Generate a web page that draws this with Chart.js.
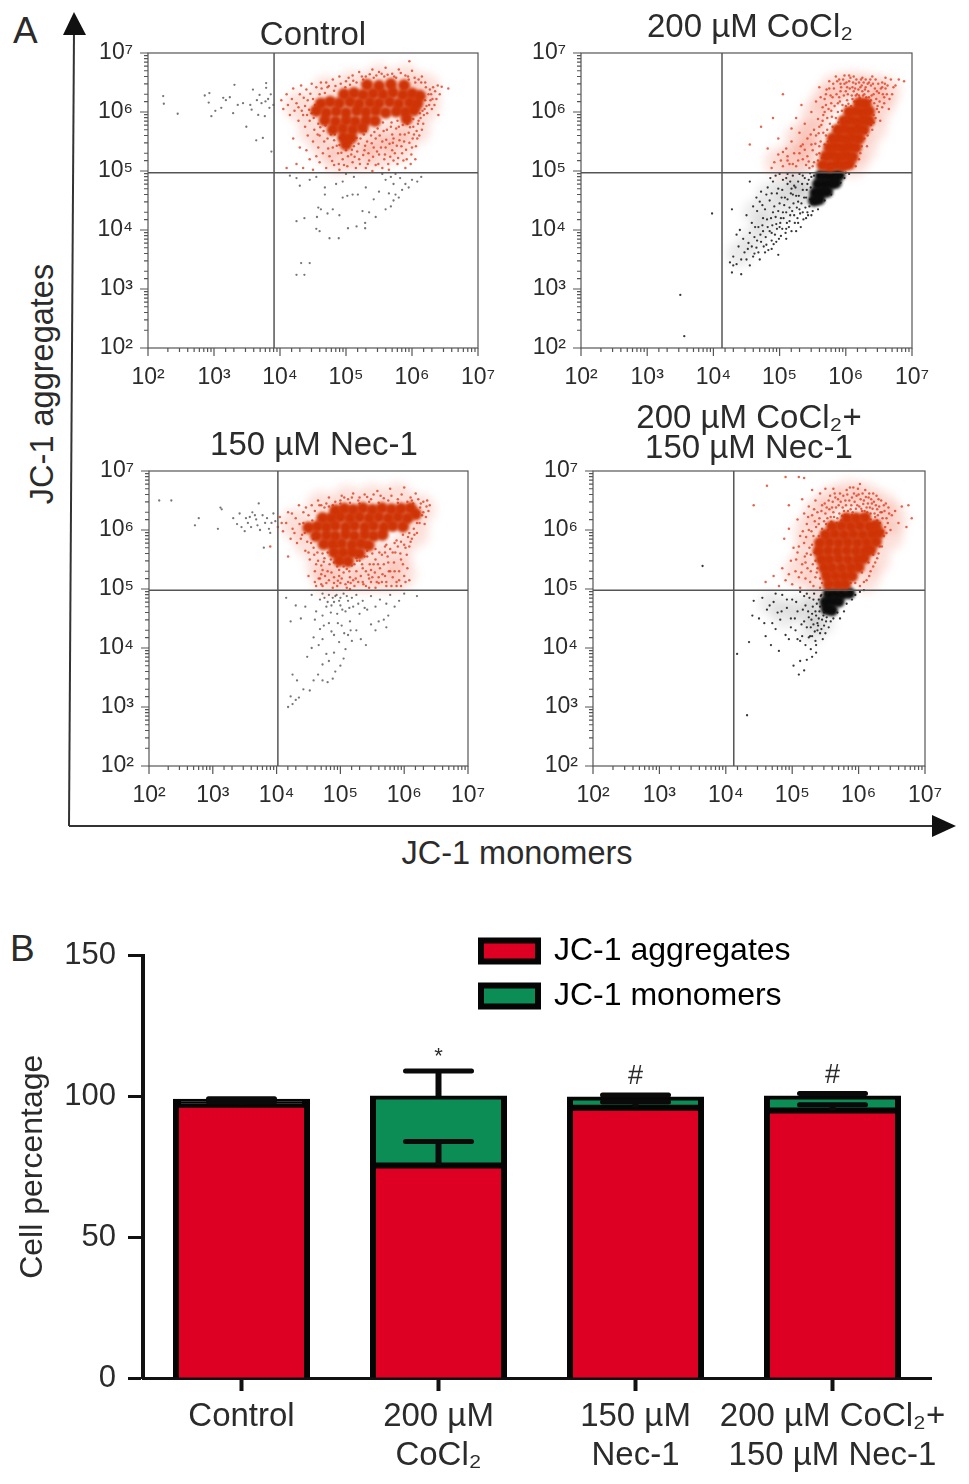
<!DOCTYPE html>
<html><head><meta charset="utf-8">
<script src="https://cdn.jsdelivr.net/npm/chart.js@4"></script>
<style>
html,body{margin:0;padding:0;background:#fff;width:969px;height:1484px;overflow:hidden}
canvas{position:absolute}
.t{position:absolute;font-family:"Liberation Sans",Arial,sans-serif;color:#2b2b2b;white-space:nowrap;line-height:1}
svg{position:absolute;left:0;top:0}
</style></head><body>
<svg width="969" height="880"><g fill="#111" stroke="#333" stroke-width="2">
<line x1="69" y1="826" x2="74" y2="30"/><line x1="69" y1="826" x2="935" y2="826"/>
<path d="M74 12 L86 35 L63 35 Z" stroke="none"/><path d="M956 826 L932 815 L932 837 Z" stroke="none"/></g></svg>
<div class="t" style="left:13px;top:12px;font-size:37px">A</div>
<div class="t" style="left:10px;top:930px;font-size:37px">B</div>
<div class="t" style="left:42px;top:384px;font-size:32.5px;transform:translate(-50%,-50%) rotate(-90deg)">JC-1 aggregates</div>
<div class="t" style="left:517px;top:853px;font-size:32.5px;transform:translate(-50%,-50%)">JC-1 monomers</div>
<script>
// ---------- Panel A: values are log10 of the fluorescence [monomers, aggregates]
const scatterTitles = [["Control"], ["200 µM CoCl₂"], ["150 µM Nec-1"], ["200 µM CoCl₂+", "150 µM Nec-1"]];
const decadeLabels = {2:"10²",3:"10³",4:"10⁴",5:"10⁵",6:"10⁶",7:"10⁷"};
const gates = [[3.91,4.97],[4.13,4.97],[4.02,4.98],[4.12,4.98]];

const controlCore = [[5.32,6.46],[5.5,6.44],[5.68,6.47],[5.88,6.45],[4.97,6.3],[5.12,6.32],[5.26,6.29],[5.41,6.31],[5.56,6.3],[5.71,6.33],[5.86,6.29],[6.0,6.31],[6.12,6.27],[4.62,6.14],[4.76,6.17],[4.9,6.15],[5.06,6.17],[5.2,6.14],[5.36,6.16],[5.5,6.15],[5.66,6.17],[5.8,6.14],[5.96,6.16],[6.08,6.14],[4.55,6.02],[4.7,5.99],[4.85,6.01],[5.0,5.99],[5.16,6.02],[5.3,6.0],[5.45,6.02],[5.6,5.99],[5.76,6.01],[5.9,6.0],[6.03,6.03],[4.68,5.86],[4.84,5.84],[5.0,5.86],[5.14,5.84],[5.3,5.86],[5.44,5.85],[5.92,5.88],[4.8,5.7],[4.95,5.72],[5.1,5.7],[5.25,5.73],[4.96,5.57],[5.08,5.56],[5.0,5.45]];
const controlRed = [[4.02,6.2],[4.05,6.05],[4.1,6.3],[4.12,6.12],[4.15,5.95],[4.18,6.22],[4.2,6.4],[4.22,6.02],[4.25,6.15],[4.28,5.85],[4.3,6.3],[4.32,6.45],[4.35,5.95],[4.38,5.75],[4.4,6.38],[4.42,5.6],[4.45,5.85],[4.48,6.48],[4.5,5.5],[4.52,5.7],[4.55,6.42],[4.58,5.4],[4.6,5.6],[4.62,6.5],[4.1,5.05],[4.25,5.12],[4.35,5.05],[4.45,5.2],[4.5,5.02],[4.6,5.15],[4.65,5.3],[4.7,5.05],[4.75,5.25],[4.8,5.4],[4.82,5.1],[4.88,5.3],[4.9,5.02],[4.95,5.2],[5.0,5.35],[5.02,5.08],[5.08,5.28],[5.12,5.42],[5.15,5.05],[5.2,5.2],[5.22,5.55],[5.28,5.35],[5.3,5.05],[5.35,5.18],[5.38,5.6],[5.42,5.4],[5.45,5.1],[5.5,5.28],[5.55,5.5],[5.58,5.2],[5.62,5.7],[5.65,5.02],[5.7,5.35],[5.72,5.55],[5.78,5.12],[5.8,5.75],[5.85,5.3],[5.88,5.5],[5.92,5.2],[5.95,5.65],[6.0,5.4],[6.02,5.75],[6.08,5.55],[6.1,5.85],[6.15,5.7],[6.18,5.95],[6.22,6.1],[6.25,6.3],[6.28,6.2],[6.3,6.05],[6.32,6.42],[6.2,6.5],[6.15,6.6],[6.35,6.35],[6.55,6.4],[6.45,6.43],[6.4,5.95],[4.7,6.5],[4.8,6.55],[4.9,6.6],[5.0,6.52],[5.1,6.62],[5.2,6.68],[5.3,6.6],[5.4,6.72],[5.5,6.68],[5.6,6.75],[5.7,6.65],[5.8,6.72],[5.9,6.62],[6.0,6.7],[6.1,6.55],[5.96,6.86],[4.72,6.42],[4.84,6.44],[4.92,6.48],[5.06,6.46],[5.16,6.5],[5.26,6.55],[5.42,6.58],[5.58,6.6],[5.76,6.58],[5.95,6.55],[6.05,6.5],[4.48,5.98],[4.5,6.22],[4.58,5.8],[4.66,5.68],[4.72,5.55],[4.82,5.52],[4.9,5.44],[5.16,5.56],[5.3,5.68],[5.48,5.72],[5.56,5.82],[5.68,5.75],[5.78,5.85],[5.7,5.62],[5.45,5.55],[5.32,5.5],[5.6,5.4],[5.82,5.62],[6.02,5.88],[6.16,6.02],[6.2,6.2],[6.12,5.98],[4.38,6.1],[4.28,6.08],[4.42,6.2],[4.68,6.32],[4.82,6.36],[4.6,6.3],[4.95,5.6],[5.1,5.15],[4.4,5.35],[4.3,5.4],[4.2,5.55],[4.55,5.25],[5.4,5.0],[5.55,5.05],[5.72,5.18],[5.9,5.05],[6.05,5.2],[5.98,5.12]];
const controlRedMore = [[4.33,6.02],[4.36,6.24],[4.41,5.95],[4.44,6.04],[4.46,6.31],[4.51,5.9],[4.53,6.12],[4.57,5.62],[4.61,5.74],[4.63,6.4],[4.67,5.5],[4.69,5.77],[4.73,5.38],[4.74,6.44],[4.77,5.62],[4.79,5.17],[4.83,5.62],[4.86,5.43],[4.89,5.12],[4.91,5.56],[4.93,5.31],[4.97,5.1],[4.99,6.42],[5.03,5.25],[5.04,6.58],[5.07,5.48],[5.09,5.36],[5.11,6.53],[5.13,5.24],[5.17,5.33],[5.19,5.46],[5.21,5.12],[5.24,6.6],[5.26,5.27],[5.27,5.62],[5.29,5.43],[5.33,5.12],[5.34,5.3],[5.36,6.64],[5.39,5.47],[5.41,5.24],[5.43,5.66],[5.46,6.62],[5.47,5.33],[5.49,5.12],[5.51,5.6],[5.53,5.4],[5.54,6.65],[5.57,5.68],[5.59,5.28],[5.61,5.53],[5.63,6.63],[5.64,5.12],[5.66,5.46],[5.67,5.24],[5.69,5.82],[5.71,5.48],[5.73,6.6],[5.74,5.3],[5.76,5.72],[5.77,5.43],[5.79,5.22],[5.81,5.52],[5.83,6.66],[5.84,5.42],[5.86,5.78],[5.87,5.18],[5.89,5.62],[5.91,5.36],[5.93,5.8],[5.94,6.6],[5.96,5.48],[5.97,5.74],[5.99,5.28],[6.01,5.55],[6.03,5.62],[6.04,6.58],[6.06,5.42],[6.07,5.68],[6.09,5.8],[6.11,5.6],[6.13,5.9],[6.14,6.5],[6.17,5.8],[6.19,6.05],[6.21,6.42],[6.23,5.98],[6.26,6.12],[6.27,6.38],[6.29,6.3],[6.31,6.22],[6.34,6.12],[6.37,6.22],[6.39,6.45],[6.42,6.3]];
const controlGray = [[2.23,6.27],[2.24,6.14],[2.45,5.97],[2.86,6.28],[2.93,6.32],[2.92,6.16],[2.96,5.93],[3.14,6.24],[3.24,6.25],[3.31,6.46],[3.29,5.98],[3.49,5.75],[3.64,5.52],[3.74,5.56],[3.87,5.33],[3.79,6.49],[3.79,6.41],[3.59,6.38],[3.69,6.29],[3.72,6.15],[3.84,6.07],[3.57,6.04],[3.44,6.15],[3.36,6.12],[3.11,6.07],[3.77,5.93],[3.67,5.95],[3.55,6.12],[3.65,6.2],[3.78,6.18],[3.82,6.22],[3.86,6.3],[3.9,6.12],[3.18,6.2],[3.02,6.02],[4.25,3.24],[4.37,3.24],[4.32,3.44],[4.45,3.44],[4.6,3.98],[4.75,3.86],[4.89,3.86],[5.03,4.03],[5.16,4.06],[5.29,4.03],[5.29,4.12],[4.25,4.15],[4.37,4.2],[4.55,4.02],[4.56,4.22],[4.58,4.38],[4.62,4.35],[4.68,4.6],[4.72,4.28],[4.8,4.35],[4.9,4.25],[4.95,4.55],[5.02,4.58],[5.1,4.6],[5.25,4.32],[5.35,4.3],[5.45,4.22],[5.6,4.35],[5.68,4.4],[5.72,4.5],[5.8,4.55],[5.85,4.68],[5.9,4.78],[5.95,4.72],[6.0,4.85],[6.08,4.82],[6.14,4.9],[5.68,4.9],[5.72,4.78],[5.6,4.85],[5.55,4.95],[5.75,4.95],[5.82,4.88],[5.5,4.65],[5.42,4.52],[5.3,4.72],[5.18,4.6],[4.15,4.92],[4.25,4.88],[4.3,4.75],[4.45,4.85],[4.55,4.9],[4.68,4.72],[4.85,4.78],[5.0,4.95],[5.12,4.9],[4.95,4.82],[5.75,4.6],[5.65,4.62]];
const controlHaze = [[4.3,6.1],[4.5,5.7],[4.7,5.4],[4.9,5.2],[5.2,5.25],[5.5,5.3],[5.8,5.4],[6.05,5.7],[6.2,6.1],[6.2,6.4],[5.9,6.55],[5.5,6.55],[5.1,6.45],[4.7,6.35],[5.35,5.55],[5.7,5.65]];

const cocl2Core = [[5.65,5.1],[5.76,5.08],[5.86,5.11],[5.96,5.09],[6.05,5.12],[5.7,5.25],[5.8,5.26],[5.9,5.24],[6.0,5.26],[6.1,5.24],[5.75,5.4],[5.85,5.41],[5.95,5.39],[6.05,5.41],[6.15,5.4],[5.8,5.55],[5.9,5.56],[6.0,5.54],[6.1,5.56],[6.2,5.55],[5.88,5.7],[5.98,5.71],[6.08,5.69],[6.18,5.71],[6.27,5.7],[5.97,5.85],[6.07,5.86],[6.17,5.84],[6.27,5.86],[6.35,5.85],[6.05,6.0],[6.15,6.01],[6.25,5.99],[6.35,6.01],[6.2,6.15],[6.3,6.14]];
const cocl2Red = [[4.88,5.05],[4.92,5.15],[4.98,5.28],[5.05,5.08],[5.1,5.38],[5.12,5.18],[5.18,5.5],[5.22,5.3],[5.25,5.08],[5.3,5.65],[5.32,5.42],[5.35,5.2],[5.38,5.8],[5.42,5.55],[5.45,5.05],[5.48,6.0],[5.5,5.35],[5.52,5.7],[5.55,6.18],[5.58,5.18],[5.58,5.88],[5.6,6.42],[5.62,5.5],[5.65,6.08],[5.66,5.65],[5.7,6.3],[5.72,5.9],[5.75,6.52],[5.78,6.15],[5.8,5.75],[5.82,6.4],[5.85,6.6],[5.88,6.0],[5.9,6.25],[5.92,6.48],[5.95,6.12],[5.98,6.62],[6.0,6.35],[6.02,6.2],[6.05,6.52],[6.08,6.1],[6.1,6.42],[6.12,6.6],[6.15,6.28],[6.18,5.5],[6.2,6.5],[6.22,5.3],[6.25,6.35],[6.28,5.55],[6.3,6.55],[6.32,5.42],[6.35,6.25],[6.38,6.45],[6.4,5.7],[6.42,5.95],[6.45,6.55],[6.48,6.1],[6.5,6.32],[6.52,5.85],[6.55,6.5],[6.58,6.15],[6.6,6.4],[6.65,6.05],[6.68,6.55],[6.7,6.3],[6.75,6.45],[6.8,6.55],[6.88,6.52],[6.3,6.42],[6.42,6.3],[6.22,6.42],[6.12,6.35],[6.02,6.42],[5.92,6.35],[5.8,6.25],[5.7,6.12],[5.62,6.25],[5.68,5.45],[5.6,5.3],[5.52,5.15],[5.42,5.25],[5.35,5.45],[6.15,5.08],[6.2,5.2],[6.3,5.65],[6.42,5.82],[6.5,6.0],[6.58,6.25],[6.46,6.22],[6.35,6.5],[6.2,6.28],[6.1,6.22],[6.0,6.1],[5.85,5.9],[5.78,5.55],[5.72,5.7],[5.65,5.85],[5.55,5.6],[5.48,5.45],[5.4,5.1],[5.3,5.3],[5.2,5.12],[5.12,5.25],[5.05,5.32],[4.82,5.38],[4.55,5.45],[4.72,5.75],[4.9,5.9],[5.25,5.9],[5.05,6.3],[5.33,6.12],[4.98,5.55],[5.18,5.72],[5.9,6.55],[6.05,6.62],[5.75,6.4],[5.98,6.48],[6.15,6.48],[6.25,6.58],[6.4,6.6],[6.6,6.58],[6.72,6.42],[6.55,6.42],[6.62,6.3],[6.38,6.2],[6.28,6.3],[5.88,6.15],[5.78,6.02],[5.68,6.0],[5.6,5.75]];
const cocl2RedMore = [[5.02,5.18],[5.15,5.12],[5.28,5.18],[5.38,5.36],[5.44,5.16],[5.47,5.62],[5.5,5.08],[5.54,5.46],[5.56,5.28],[5.59,5.64],[5.6,5.42],[5.63,5.78],[5.64,5.22],[5.66,5.95],[5.68,6.22],[5.7,5.6],[5.71,6.38],[5.73,5.5],[5.74,6.05],[5.76,5.8],[5.77,6.28],[5.79,5.92],[5.81,6.48],[5.83,6.1],[5.84,5.68],[5.86,6.3],[5.87,6.52],[5.89,5.82],[5.91,6.18],[5.93,6.42],[5.94,6.02],[5.96,6.55],[5.97,6.28],[5.99,5.9],[6.01,6.5],[6.03,6.3],[6.04,6.14],[6.06,6.4],[6.07,6.58],[6.09,6.28],[6.11,6.5],[6.13,6.18],[6.14,6.4],[6.16,6.55],[6.17,6.3],[6.19,6.38],[6.21,6.24],[6.23,6.55],[6.24,6.45],[6.26,6.28],[6.27,6.5],[6.29,6.38],[6.31,6.25],[6.33,6.48],[6.34,6.35],[6.36,6.18],[6.37,6.55],[6.39,6.28],[6.41,6.48],[6.43,6.15],[6.44,6.4],[6.47,6.35],[6.49,6.48],[6.51,6.18],[6.53,6.4],[6.56,6.3],[6.59,6.48],[6.63,6.45],[6.66,6.22],[6.24,5.42],[6.33,5.6],[6.38,5.78],[6.45,5.9],[6.47,6.05],[6.55,6.08],[6.12,5.25],[6.18,5.38],[6.05,5.08]];
const cocl2BlackCore = [[5.62,4.92],[5.72,4.92],[5.82,4.92],[5.9,4.93],[5.58,4.78],[5.68,4.78],[5.78,4.79],[5.85,4.8],[5.54,4.63],[5.63,4.64],[5.72,4.65],[5.52,4.5],[5.6,4.52]];
const cocl2Black = [[3.98,4.28],[3.5,2.9],[3.56,2.2],[4.25,3.45],[4.3,3.55],[4.35,3.42],[4.42,3.5],[4.3,3.4],[4.5,3.5],[4.28,3.28],[4.42,3.25],[4.55,3.4],[4.6,3.55],[4.65,3.7],[4.52,3.68],[4.7,3.5],[4.78,3.62],[4.45,3.85],[4.4,4.0],[4.55,3.95],[4.62,3.88],[4.72,3.8],[4.8,3.75],[4.88,3.68],[4.95,3.8],[5.02,3.9],[4.68,4.05],[4.75,4.2],[4.82,4.05],[4.88,3.95],[4.95,4.1],[5.02,4.2],[5.1,4.02],[5.15,4.15],[5.22,4.25],[5.28,4.12],[5.35,4.3],[5.4,4.2],[4.5,4.25],[4.6,4.4],[4.7,4.48],[4.78,4.35],[4.85,4.5],[4.9,4.3],[5.0,4.45],[5.08,4.55],[5.15,4.38],[5.2,4.6],[5.28,4.48],[5.35,4.68],[5.4,4.55],[5.45,4.4],[4.72,4.65],[4.82,4.72],[4.9,4.82],[4.98,4.7],[5.05,4.85],[5.12,4.78],[5.2,4.92],[5.28,4.82],[5.35,4.92],[5.42,4.78],[5.48,4.9],[5.0,4.95],[5.12,4.95],[4.88,4.62],[5.05,4.3],[5.25,3.98],[4.65,4.55],[5.32,4.05],[5.48,4.25],[5.42,4.3],[5.98,4.88],[6.05,4.95],[6.0,4.97],[5.92,4.8],[5.78,4.6],[5.68,4.5],[5.58,4.35],[5.5,4.32],[4.38,3.72],[4.35,3.92],[4.28,4.35],[4.55,4.82],[4.62,3.6],[4.98,3.58],[5.1,3.85],[5.18,3.98],[4.88,3.82],[4.75,3.98],[5.0,4.05],[5.3,4.35],[5.1,4.3],[4.92,4.4],[5.18,4.7],[5.25,4.58]];
const cocl2BlackMore = [[4.47,3.62],[4.53,3.78],[4.58,3.72],[4.63,4.05],[4.66,3.82],[4.68,3.62],[4.71,3.92],[4.74,4.08],[4.76,3.72],[4.79,3.88],[4.81,4.18],[4.83,3.66],[4.85,3.98],[4.87,4.2],[4.89,4.08],[4.91,3.76],[4.93,3.92],[4.94,4.22],[4.96,4.02],[4.98,4.32],[4.99,3.85],[5.01,4.12],[5.03,4.55],[5.04,4.02],[5.06,4.2],[5.07,4.42],[5.09,3.95],[5.11,4.12],[5.12,4.52],[5.14,4.05],[5.16,4.25],[5.17,4.62],[5.19,4.32],[5.21,4.45],[5.23,4.12],[5.24,4.72],[5.26,4.38],[5.27,4.2],[5.29,4.58],[5.31,4.28],[5.33,4.45],[5.34,4.78],[5.36,4.18],[5.37,4.55],[5.39,4.38],[5.41,4.68],[5.43,4.25],[5.44,4.85],[5.46,4.52],[5.47,4.72],[5.49,4.45],[4.96,4.62],[5.04,4.68],[5.1,4.88],[5.16,4.82],[5.22,4.75],[5.3,4.95],[5.38,4.88],[5.46,4.96],[5.52,4.92],[4.8,4.6],[4.86,4.88],[4.94,4.92],[4.74,4.42],[4.66,4.32],[4.58,4.12]];
const cocl2Haze = [[5.0,5.15],[5.25,5.2],[5.45,5.3],[5.3,5.55],[5.5,5.65],[5.55,5.95],[5.7,6.2],[5.85,6.4],[6.1,6.45],[6.35,6.4],[6.6,6.35],[6.5,6.1],[6.4,5.75],[6.25,5.4],[6.1,5.15]];
const cocl2BlackHaze = [[4.4,3.6],[4.6,3.85],[4.8,4.1],[5.05,4.35],[5.25,4.6],[5.1,4.75],[4.85,4.6],[4.65,4.3],[5.3,4.85],[5.45,4.6]];

const nec1Core = [[4.92,6.33],[5.06,6.36],[5.2,6.34],[5.35,6.37],[5.5,6.34],[5.65,6.37],[5.8,6.35],[5.95,6.36],[6.1,6.37],[6.18,6.27],[4.72,6.2],[4.86,6.2],[5.0,6.22],[5.15,6.2],[5.3,6.22],[5.45,6.2],[5.6,6.22],[5.75,6.2],[5.9,6.22],[6.05,6.2],[4.5,6.04],[4.64,6.06],[4.78,6.05],[4.92,6.07],[5.08,6.05],[5.22,6.07],[5.38,6.05],[5.52,6.07],[5.68,6.05],[5.82,6.07],[5.98,6.06],[4.62,5.9],[4.78,5.91],[4.92,5.9],[5.08,5.92],[5.22,5.9],[5.38,5.92],[5.52,5.9],[5.66,5.92],[4.74,5.76],[4.88,5.76],[5.02,5.77],[5.18,5.75],[5.32,5.77],[5.44,5.74],[4.9,5.62],[5.04,5.62],[5.18,5.62],[5.3,5.6],[4.98,5.48],[5.12,5.47]];
const nec1Red = [[4.02,6.05],[4.05,6.22],[4.1,5.98],[4.15,6.12],[4.18,6.3],[4.22,5.85],[4.25,6.02],[4.3,6.2],[4.32,5.78],[4.35,6.42],[4.4,5.92],[4.42,6.3],[4.45,5.65],[4.5,6.25],[4.52,5.5],[4.55,6.42],[4.58,5.7],[4.6,5.3],[4.62,5.05],[4.65,6.5],[4.68,5.18],[4.7,5.4],[4.72,5.6],[4.75,6.38],[4.78,5.1],[4.8,5.3],[4.82,6.55],[4.85,5.5],[4.88,5.02],[4.9,5.2],[4.92,6.48],[4.95,5.38],[5.0,5.1],[5.02,6.58],[5.05,5.28],[5.1,5.02],[5.12,6.52],[5.15,5.2],[5.18,5.4],[5.2,6.62],[5.22,5.05],[5.25,5.3],[5.28,6.5],[5.3,5.48],[5.35,5.12],[5.38,6.6],[5.4,5.3],[5.42,5.55],[5.45,5.02],[5.48,6.52],[5.5,5.2],[5.52,5.42],[5.55,5.68],[5.58,6.66],[5.6,5.1],[5.62,5.35],[5.65,5.58],[5.68,6.54],[5.7,5.22],[5.72,5.75],[5.75,5.45],[5.78,6.7],[5.8,5.05],[5.82,5.62],[5.85,5.3],[5.88,5.82],[5.9,6.52],[5.92,5.15],[5.95,5.5],[5.98,5.92],[6.0,6.72],[6.02,5.7],[6.05,5.35],[6.08,5.95],[6.1,6.55],[6.12,5.85],[6.15,6.02],[6.2,6.12],[6.22,6.52],[6.25,6.38],[6.28,6.25],[6.3,6.48],[6.32,6.1],[6.35,6.4],[6.4,6.42],[6.18,6.62],[5.08,5.6],[4.95,5.72],[5.25,5.52],[5.42,5.65],[5.55,5.5],[5.7,5.62],[5.85,5.78],[5.95,5.8],[6.06,5.88],[4.85,5.72],[4.75,5.52],[4.65,5.48],[4.58,5.85],[4.48,5.8],[4.42,6.12],[4.6,6.32],[4.7,6.42],[4.82,6.4],[5.0,6.45],[5.15,6.46],[5.3,6.45],[5.45,6.48],[5.6,6.46],[5.75,6.5],[5.9,6.46],[6.05,6.48],[6.14,6.45],[4.9,5.45],[5.05,5.38],[5.2,5.15],[5.35,5.35],[5.48,5.32],[5.6,5.2],[5.72,5.05],[5.88,5.05],[6.0,5.22],[5.78,5.3],[5.65,5.12],[5.45,5.18],[5.28,5.12],[5.12,5.12],[4.98,5.22],[4.82,5.15],[4.7,5.25],[4.6,5.12],[4.5,5.22],[4.72,5.05],[4.95,5.05],[5.15,5.0],[5.4,5.05],[5.55,5.02],[5.95,5.05],[6.08,5.15],[4.18,5.55],[3.9,5.72]];
const nec1RedMore = [[4.08,6.12],[4.24,6.28],[4.28,5.95],[4.36,6.1],[4.38,5.85],[4.44,5.95],[4.46,6.38],[4.5,5.62],[4.54,5.78],[4.56,6.16],[4.59,5.58],[4.62,5.42],[4.64,5.62],[4.66,5.18],[4.67,6.42],[4.7,5.08],[4.72,5.32],[4.74,5.46],[4.76,5.22],[4.78,6.45],[4.8,5.62],[4.83,5.42],[4.86,5.28],[4.88,6.42],[4.9,5.1],[4.93,5.55],[4.96,5.14],[4.98,5.32],[5.0,6.5],[5.02,5.18],[5.04,5.45],[5.06,6.55],[5.08,5.08],[5.1,5.34],[5.14,5.3],[5.16,5.1],[5.18,6.55],[5.22,5.42],[5.24,5.18],[5.26,5.48],[5.3,6.55],[5.32,5.22],[5.34,5.42],[5.36,5.08],[5.38,5.55],[5.42,6.56],[5.44,5.24],[5.46,5.42],[5.48,5.12],[5.5,5.6],[5.52,6.6],[5.54,5.28],[5.57,5.12],[5.59,5.42],[5.61,5.62],[5.63,6.58],[5.66,5.25],[5.68,5.42],[5.7,5.72],[5.72,5.12],[5.74,5.55],[5.76,5.3],[5.78,5.68],[5.8,6.58],[5.82,5.2],[5.84,5.45],[5.86,5.62],[5.88,5.12],[5.9,5.72],[5.92,5.3],[5.94,5.6],[5.96,6.6],[5.98,5.42],[6.0,5.75],[6.02,5.12],[6.04,5.58],[6.08,5.72],[6.1,5.8],[6.12,6.5],[6.16,5.92],[6.2,5.95],[6.24,6.12],[6.26,6.45],[6.3,6.3],[6.34,6.22],[6.36,6.5],[6.38,6.32]];
const nec1Gray = [[2.16,6.5],[2.35,6.5],[2.72,6.08],[2.78,6.2],[3.08,6.02],[3.12,6.38],[3.14,6.35],[3.32,6.2],[3.38,6.1],[3.42,6.28],[3.45,6.05],[3.5,5.98],[3.55,6.12],[3.58,6.22],[3.62,6.3],[3.68,6.18],[3.7,6.08],[3.72,6.45],[3.78,6.25],[3.82,6.12],[3.85,6.2],[3.88,6.02],[3.92,6.12],[3.95,6.28],[3.8,5.7],[3.6,6.05],[3.52,6.2],[3.74,6.0],[3.9,5.95],[3.66,6.25],[3.98,6.15],[4.25,3.05],[4.3,3.12],[4.18,3.0],[4.22,3.18],[4.35,3.16],[4.25,3.55],[4.32,3.45],[4.42,3.3],[4.52,3.28],[4.58,3.45],[4.65,3.55],[4.72,3.45],[4.8,3.42],[4.88,3.48],[4.72,3.72],[4.82,3.78],[4.92,3.6],[5.0,3.7],[5.05,3.82],[4.48,3.85],[4.55,4.0],[4.58,4.18],[4.68,4.32],[4.72,4.15],[4.82,4.42],[4.9,4.22],[4.98,4.1],[5.02,4.38],[5.08,3.98],[5.12,4.22],[5.18,4.12],[5.25,4.3],[5.32,4.15],[5.4,4.05],[5.48,4.4],[5.55,4.3],[5.6,4.45],[5.68,4.48],[5.72,4.35],[5.75,4.55],[4.15,4.85],[4.3,4.72],[4.22,4.45],[4.38,4.5],[4.45,4.7],[4.55,4.9],[4.62,4.62],[4.68,4.82],[4.72,4.55],[4.78,4.7],[4.82,4.9],[4.85,4.6],[4.9,4.78],[4.92,4.88],[4.95,4.58],[5.0,4.72],[5.05,4.92],[5.08,4.62],[5.12,4.8],[5.15,4.45],[5.2,4.7],[5.25,4.9],[5.3,4.58],[5.35,4.8],[5.42,4.65],[5.48,4.88],[5.55,4.7],[5.62,4.82],[5.72,4.75],[5.78,4.9],[5.85,4.7],[5.92,4.8],[6.0,4.92],[6.2,4.88],[4.88,4.85],[4.72,4.92],[5.0,4.85],[4.75,4.85],[4.8,4.78],[4.86,4.72],[4.94,4.9],[4.98,4.8],[5.03,4.65],[5.1,4.88],[5.14,4.68],[5.18,4.85],[5.28,4.75],[5.38,4.68],[4.6,4.48],[4.74,4.38],[4.86,4.28],[4.96,4.42],[5.06,4.25],[5.16,4.3],[4.66,4.05],[4.78,3.9],[4.9,3.92]];
const nec1Haze = [[4.3,6.1],[4.5,5.8],[4.7,5.4],[4.8,5.15],[5.1,5.2],[5.4,5.2],[5.7,5.2],[5.95,5.25],[5.9,5.6],[6.15,5.95],[6.25,6.35],[5.9,6.55],[5.5,6.52],[5.1,6.5],[4.7,6.4],[5.5,5.6]];

const comboCore = [[5.55,5.08],[5.68,5.08],[5.8,5.08],[5.52,5.22],[5.65,5.22],[5.78,5.22],[5.9,5.22],[5.48,5.36],[5.6,5.36],[5.74,5.36],[5.88,5.36],[6.0,5.37],[5.44,5.5],[5.56,5.5],[5.7,5.51],[5.84,5.5],[5.98,5.5],[6.08,5.52],[5.4,5.64],[5.54,5.65],[5.68,5.64],[5.82,5.65],[5.96,5.64],[6.1,5.65],[6.18,5.66],[5.42,5.78],[5.56,5.79],[5.7,5.78],[5.84,5.79],[5.98,5.78],[6.12,5.79],[6.26,5.8],[5.5,5.92],[5.64,5.93],[5.78,5.92],[5.92,5.93],[6.06,5.92],[6.2,5.93],[6.31,5.95],[5.6,6.06],[5.74,6.07],[5.88,6.06],[6.02,6.07],[6.16,6.06],[6.26,6.08],[5.82,6.2],[5.96,6.2],[6.1,6.21]];
const comboRed = [[4.6,5.12],[4.72,5.22],[4.8,5.05],[4.85,5.35],[4.9,5.15],[4.98,5.48],[5.0,5.08],[5.05,5.3],[5.08,5.62],[5.12,5.02],[5.15,5.42],[5.18,5.78],[5.2,5.18],[5.22,5.6],[5.25,6.0],[5.28,5.3],[5.3,5.75],[5.32,5.05],[5.34,6.15],[5.35,5.48],[5.38,6.3],[5.4,5.9],[5.42,5.18],[5.45,6.42],[5.48,6.15],[5.5,6.28],[5.52,5.02],[5.55,6.5],[5.58,6.22],[5.6,6.38],[5.65,6.55],[5.68,6.2],[5.7,6.42],[5.72,6.62],[5.78,6.32],[5.8,6.5],[5.82,6.68],[5.88,6.35],[5.9,6.55],[5.92,6.72],[5.98,6.42],[6.0,6.6],[6.02,6.78],[6.05,6.32],[6.08,6.5],[6.1,6.68],[6.12,6.38],[6.15,6.55],[6.18,6.28],[6.2,6.45],[6.22,6.62],[6.25,6.22],[6.28,6.35],[6.3,6.52],[6.32,6.12],[6.35,6.3],[6.38,6.42],[6.4,6.05],[6.42,6.2],[6.45,6.38],[6.48,6.0],[6.5,6.25],[6.55,6.32],[6.6,6.12],[6.65,6.4],[6.72,6.05],[6.75,6.42],[6.8,6.2],[6.38,5.9],[6.35,5.72],[6.3,5.6],[6.25,5.45],[6.18,5.3],[6.12,5.15],[6.02,5.05],[5.95,5.1],[6.05,5.28],[6.15,5.45],[6.22,5.58],[4.88,5.85],[4.95,6.02],[5.02,5.7],[5.08,6.18],[5.12,5.9],[5.18,6.28],[5.22,6.1],[5.25,6.4],[5.3,6.25],[5.35,6.5],[5.4,6.1],[5.45,6.02],[5.32,5.9],[5.2,5.45],[5.28,5.58],[5.35,5.2],[5.42,5.02],[5.1,5.2],[4.95,5.25],[5.15,6.52],[5.3,6.68],[5.42,6.62],[5.5,6.7],[5.62,6.7],[4.95,6.42],[4.42,6.42],[5.1,6.9],[5.18,6.88],[4.9,6.9],[4.62,6.75],[5.6,5.1],[5.72,5.02],[5.88,5.1],[5.52,6.38],[5.62,6.3],[5.75,6.24],[5.9,6.26],[6.04,6.24],[6.18,6.18],[6.28,6.16],[5.38,5.35],[5.45,5.1]];
const comboRedMore = [[5.06,5.5],[5.1,5.72],[5.14,5.28],[5.16,5.98],[5.19,5.55],[5.21,5.88],[5.23,5.35],[5.24,6.22],[5.26,5.7],[5.27,5.12],[5.29,5.98],[5.31,5.42],[5.33,6.35],[5.34,5.62],[5.36,6.05],[5.37,5.28],[5.39,5.78],[5.41,6.2],[5.43,5.52],[5.44,6.32],[5.46,5.92],[5.47,5.26],[5.49,6.45],[5.51,6.1],[5.53,6.2],[5.54,6.0],[5.56,6.35],[5.57,6.58],[5.59,6.14],[5.61,6.48],[5.63,6.22],[5.64,6.62],[5.66,6.38],[5.67,6.12],[5.69,6.52],[5.71,6.28],[5.73,6.48],[5.74,6.16],[5.76,6.38],[5.77,6.58],[5.79,6.25],[5.81,6.42],[5.83,6.6],[5.84,6.32],[5.86,6.5],[5.87,6.72],[5.89,6.42],[5.91,6.3],[5.93,6.62],[5.94,6.48],[5.96,6.36],[5.97,6.58],[5.99,6.7],[6.01,6.4],[6.03,6.52],[6.04,6.36],[6.06,6.62],[6.07,6.44],[6.09,6.32],[6.11,6.56],[6.13,6.3],[6.14,6.45],[6.16,6.62],[6.17,6.38],[6.19,6.52],[6.21,6.36],[6.23,6.48],[6.24,6.28],[6.26,6.42],[6.27,6.58],[6.29,6.25],[6.31,6.4],[6.33,6.3],[6.34,6.5],[6.36,6.2],[6.39,6.32],[6.41,6.45],[6.44,6.12],[6.46,6.28],[6.36,5.98],[6.42,5.95],[6.32,5.72],[6.28,5.52],[6.22,5.38],[6.16,5.22],[6.08,5.12]];
const comboBlackCore = [[5.55,4.92],[5.66,4.92],[5.76,4.92],[5.86,4.93],[5.5,4.78],[5.6,4.79],[5.7,4.79],[5.52,4.66],[5.6,4.64]];
const comboBlack = [[3.65,5.39],[4.17,3.9],[4.32,2.86],[4.4,4.55],[4.42,4.8],[4.35,4.1],[4.5,4.5],[4.55,4.85],[4.6,4.2],[4.62,4.65],[4.68,4.05],[4.7,4.42],[4.72,4.78],[4.75,4.32],[4.78,4.6],[4.8,3.95],[4.82,4.48],[4.85,4.9],[4.9,4.22],[4.92,4.68],[4.95,4.15],[4.98,4.5],[5.0,4.82],[5.05,4.3],[5.08,4.62],[5.02,3.7],[5.1,3.55],[5.18,3.62],[5.12,3.78],[5.22,3.8],[5.3,3.85],[5.36,3.92],[5.28,3.98],[5.15,4.2],[5.18,4.45],[5.2,4.72],[5.22,4.92],[5.25,4.18],[5.28,4.35],[5.3,4.58],[5.32,4.82],[5.35,4.12],[5.38,4.3],[5.4,4.5],[5.42,4.7],[5.44,4.9],[5.36,4.05],[5.46,4.15],[5.48,4.38],[5.5,4.25],[5.52,4.52],[5.55,4.35],[5.58,4.45],[5.62,4.5],[5.68,4.6],[5.72,4.5],[5.35,4.62],[5.25,4.52],[5.4,4.82],[5.48,4.6],[5.42,4.25],[5.3,4.2],[5.78,4.62],[5.82,4.75],[5.9,4.82],[5.95,4.9],[6.02,4.95],[6.08,4.98],[4.75,4.92],[5.12,4.95],[5.38,4.42],[5.45,4.48],[5.32,4.4]];
const comboBlackMore = [[5.2,4.05],[5.22,4.35],[5.24,4.62],[5.26,4.85],[5.27,4.2],[5.29,4.48],[5.31,4.7],[5.33,4.92],[5.34,4.28],[5.36,4.55],[5.37,4.75],[5.39,4.38],[5.41,4.62],[5.43,4.88],[5.44,4.32],[5.46,4.72],[5.47,4.55],[5.49,4.82],[5.51,4.45],[5.53,4.92],[5.12,4.12],[5.14,4.4],[5.16,4.65],[5.18,4.88],[5.04,4.5],[5.06,4.78],[4.98,4.35],[4.92,4.82],[4.84,4.62],[4.58,4.42],[4.66,4.72],[5.08,4.15]];
const comboHaze = [[5.1,5.3],[5.25,5.65],[5.25,6.0],[5.4,6.3],[5.6,6.5],[5.85,6.6],[6.1,6.55],[6.35,6.4],[6.5,6.2],[6.45,5.9],[6.25,5.5],[6.1,5.2],[5.4,5.15]];
const comboBlackHaze = [[4.9,4.55],[5.1,4.7],[5.3,4.6],[5.3,4.3],[5.45,4.45],[5.4,4.85],[4.7,4.75]];

const scatterSets = [
  {core:controlCore, red:controlRed.concat(controlRedMore), gray:controlGray, haze:controlHaze},
  {core:cocl2Core, red:cocl2Red.concat(cocl2RedMore), gray:cocl2Black.concat(cocl2BlackMore), grayCore:cocl2BlackCore, haze:cocl2Haze, grayHaze:cocl2BlackHaze},
  {core:nec1Core, red:nec1Red.concat(nec1RedMore), gray:nec1Gray, haze:nec1Haze},
  {core:comboCore, red:comboRed.concat(comboRedMore), gray:comboBlack.concat(comboBlackMore), grayCore:comboBlackCore, haze:comboHaze, grayHaze:comboBlackHaze}
];
// ---------- Panel B
const barCategories = [["Control"], ["200 µM","CoCl₂"], ["150 µM","Nec-1"], ["200 µM CoCl₂+","150 µM Nec-1"]];
const aggregates = [97, 75.5, 96, 95];
const monomers = [1.8, 24.5, 3.6, 5];
const aggregatesTop = [98, 84, 98, 97];
const monomersTop = [99.2, 109, 100.5, 101];
const significance = ["", "*", "#", "#"];
const cellTicks = [0, 50, 100, 150];
const RED = '#de0022', GREEN = '#0b8d55', EDGE = '#050505';

const SANS = '"Liberation Sans", Arial, sans-serif';
const TXT = '#2b2b2b';
// plot rectangles, used for page layout only
const frames = [
  {l:148,r:478,t:53,b:348,cx:313,titleY:36},
  {l:581,r:912,t:53,b:348,cx:750,titleY:28},
  {l:149,r:468,t:471,b:766,cx:314,titleY:446},
  {l:593,r:925,t:471,b:766,cx:749,titleY:434}
];
const toPt = p => ({x:10**p[0], y:10**p[1]});

const logMarks = {
  id:'logMarks',
  afterDraw(chart){
    const {ctx,chartArea:a,scales:{x,y}} = chart;
    ctx.save(); ctx.strokeStyle='#555'; ctx.lineWidth=1.2;
    ctx.strokeRect(a.left,a.top,a.right-a.left,a.bottom-a.top);
    const major = v => Math.abs(Math.log10(v)-Math.round(Math.log10(v)))<1e-6;
    ctx.beginPath();
    x.ticks.forEach((t,i)=>{const p=x.getPixelForTick(i),L=major(t.value)?8:4;ctx.moveTo(p,a.bottom);ctx.lineTo(p,a.bottom+L);});
    y.ticks.forEach((t,i)=>{const p=y.getPixelForTick(i),L=major(t.value)?8:4;ctx.moveTo(a.left,p);ctx.lineTo(a.left-L,p);});
    ctx.stroke(); ctx.restore();
  },
  beforeDraw(chart){
    const f = chart.$frame, tb = chart.titleBlock; if(!tb) return;
    const h = tb.bottom-tb.top; tb.top = f.titleY - f.cTop - h/2; tb.bottom = tb.top+h;
    tb.left = 0; tb.right = chart.width;
  },
  beforeDatasetDraw(chart,args){
    const lab = chart.data.datasets[args.index].label;
    chart.ctx.filter = lab.includes('core') ? 'blur(1.8px)' : lab.includes('tint') ? 'blur(5px)' : 'blur(0.35px)';
    if(lab==='gate') chart.ctx.filter='none';
  },
  afterDatasetDraw(chart){ chart.ctx.filter='none'; }
};

scatterSets.forEach((s,i)=>{
  const f = frames[i], half = 240;
  const titleLines = scatterTitles[i].length, LH = 30;
  const cTop = f.t - 70 - (titleLines-1)*LH, cBottom = f.b+50;
  const cLeft = f.cx-half, cRight = f.cx+half;
  f.cTop = cTop;
  const c = document.createElement('canvas');
  c.width = cRight-cLeft; c.height = cBottom-cTop;
  c.style.left = cLeft+'px'; c.style.top = cTop+'px';
  document.body.appendChild(c);
  const [gx,gy] = gates[i];
  const line = pts => ({data:pts.map(toPt),showLine:true,borderColor:'#555',borderWidth:1.5,pointRadius:0,order:0,label:'gate'});
  const datasets = [
    line([[2,gy],[7,gy]]), line([[gx,2],[gx,7]]),
    {label:'JC-1 aggregates core',data:s.core.map(toPt),pointRadius:6.2,pointBorderWidth:0,backgroundColor:'#cf3406',order:2},
    {label:'JC-1 aggregates',data:s.red.map(toPt),pointRadius:1.25,pointBorderWidth:0,backgroundColor:'rgba(222,62,34,.8)',order:3},
    {label:'aggregates tint',data:s.haze.map(toPt),pointRadius:15,pointBorderWidth:0,backgroundColor:'rgba(238,100,70,.2)',order:6},
    {label:'low aggregates',data:s.gray.map(toPt),pointRadius:1.15,pointBorderWidth:0,backgroundColor:(i%2?'rgba(20,20,20,.85)':'rgba(60,60,60,.7)'),order:4}
  ];
  if(s.grayCore){
    datasets.push({label:'low aggregates core',data:s.grayCore.map(toPt),pointRadius:6,pointBorderWidth:0,backgroundColor:'#0c0c0c',order:4});
    datasets.push({label:'low aggregates tint',data:s.grayHaze.map(toPt),pointRadius:13,pointBorderWidth:0,backgroundColor:'rgba(0,0,0,.08)',order:6});
  }
  new Chart(c,{
    type:'scatter',
    data:{datasets},
    options:{
      responsive:false,animation:false,events:[],
      layout:{autoPadding:false,padding:{top:f.t-cTop-titleLines*LH,right:cRight-f.r,left:0,bottom:0}},
      plugins:{legend:{display:false},tooltip:{enabled:false},
        title:{display:true,text:scatterTitles[i],color:TXT,padding:0,font:{family:SANS,size:33,weight:'normal',lineHeight:LH+'px'}}},
      scales:{
        x:{type:'logarithmic',min:100,max:1e7,
          grid:{display:false,drawTicks:false},border:{display:false},
          afterFit(a){a.height=cBottom-f.b},
          ticks:{autoSkip:false,maxRotation:0,minRotation:0,padding:16,color:TXT,font:{family:SANS,size:23},
            callback:v=>{const e=Math.log10(v);return Math.abs(e-Math.round(e))<1e-6?decadeLabels[Math.round(e)]:''}}},
        y:{type:'logarithmic',min:100,max:1e7,
          grid:{display:false,drawTicks:false},border:{display:false},
          afterFit(a){a.width=f.l-cLeft},
          ticks:{autoSkip:false,padding:15,color:TXT,font:{family:SANS,size:23},
            callback:v=>{const e=Math.log10(v);return Math.abs(e-Math.round(e))<1e-6?decadeLabels[Math.round(e)]:''}}}
      }
    },
    plugins:[{id:'frameRef',beforeInit(ch){ch.$frame=f}},logMarks]
  });
});

// ---------- bar chart
const errorBars = {
  id:'errorBars',
  afterDatasetsDraw(chart){
    const {ctx,scales:{x,y}} = chart;
    ctx.save(); ctx.strokeStyle='#0a0a0a'; ctx.fillStyle=TXT;
    const draw=(i,from,to)=>{
      const px=x.getPixelForValue(i),a=y.getPixelForValue(from),b=y.getPixelForValue(to);
      ctx.lineCap='butt';ctx.lineWidth=6;ctx.beginPath();ctx.moveTo(px,a);ctx.lineTo(px,b);ctx.stroke();
      ctx.lineCap='round';ctx.lineWidth=5;ctx.beginPath();ctx.moveTo(px-33,b);ctx.lineTo(px+33,b);ctx.stroke();
    };
    aggregates.forEach((v,i)=>{ draw(i,v,aggregatesTop[i]); const t=v+monomers[i]; draw(i,t,monomersTop[i]); });
    ctx.textAlign='center';ctx.textBaseline='middle';
    significance.forEach((m,i)=>{ if(!m) return;
      ctx.font=(m==='*'?'22px ':'27px ')+SANS;
      ctx.fillText(m,x.getPixelForValue(i),y.getPixelForValue(monomersTop[i])-(m==='*'?14:18));
    });
    ctx.restore();
  }
};
const legendPlace = {
  id:'legendPlace',
  beforeDraw(chart){
    const l=chart.legend,P=13;
    l.left=481-P; l.right=960; l.top=935-P-chart.canvas.offsetTop; l.bottom=l.top+130;
  }
};
const bc=document.createElement('canvas');
const bTop=925,bBottom=1484;
bc.width=969;bc.height=bBottom-bTop;bc.style.left='0';bc.style.top=bTop+'px';
document.body.appendChild(bc);
new Chart(bc,{
  type:'bar',
  data:{labels:barCategories,datasets:[
    {label:'JC-1 aggregates',data:aggregates,backgroundColor:RED,borderColor:EDGE,borderWidth:{top:4,left:6,right:6,bottom:0},borderSkipped:false,inflateAmount:1,barPercentage:135/197,categoryPercentage:1},
    {label:'JC-1 monomers',data:monomers,backgroundColor:[EDGE,GREEN,GREEN,GREEN],borderColor:EDGE,borderWidth:{top:4,left:6,right:6,bottom:4},borderSkipped:false,inflateAmount:1,barPercentage:135/197,categoryPercentage:1}
  ]},
  options:{
    responsive:false,animation:false,events:[],
    layout:{autoPadding:false,padding:{top:952-bTop,right:969-931,left:0,bottom:0}},
    plugins:{tooltip:{enabled:false},title:{display:false},
      legend:{position:'chartArea',align:'start',
        labels:{boxWidth:57,boxHeight:21,padding:13,color:TXT,font:{family:SANS,size:32},
          generateLabels:ch=>ch.data.datasets.map((d,i)=>({text:d.label,fillStyle:[RED,GREEN][i],strokeStyle:EDGE,lineWidth:6,hidden:false,datasetIndex:i}))}}},
    scales:{
      x:{stacked:true,
        afterFit(a){a.height=bBottom-1378},
        grid:{drawOnChartArea:false,tickLength:13,tickWidth:4,tickColor:'#111',offset:false},
        border:{color:'#111',width:3},
        ticks:{maxRotation:0,minRotation:0,autoSkip:false,padding:6,color:TXT,font:{family:SANS,size:33,lineHeight:1.2}}},
      y:{stacked:true,min:0,max:150,
        afterFit(a){a.width=143},
        afterBuildTicks(a){a.ticks=cellTicks.map(v=>({value:v}))},
        grid:{drawOnChartArea:false,tickLength:15,tickWidth:3,tickColor:'#111'},
        border:{color:'#111',width:4},
        title:{display:true,text:'Cell percentage',color:TXT,padding:{top:14,bottom:0},font:{family:SANS,size:32}},
        ticks:{padding:12,color:TXT,font:{family:SANS,size:31}}}
    }
  },
  plugins:[errorBars,legendPlace]
});
</script></body></html>
